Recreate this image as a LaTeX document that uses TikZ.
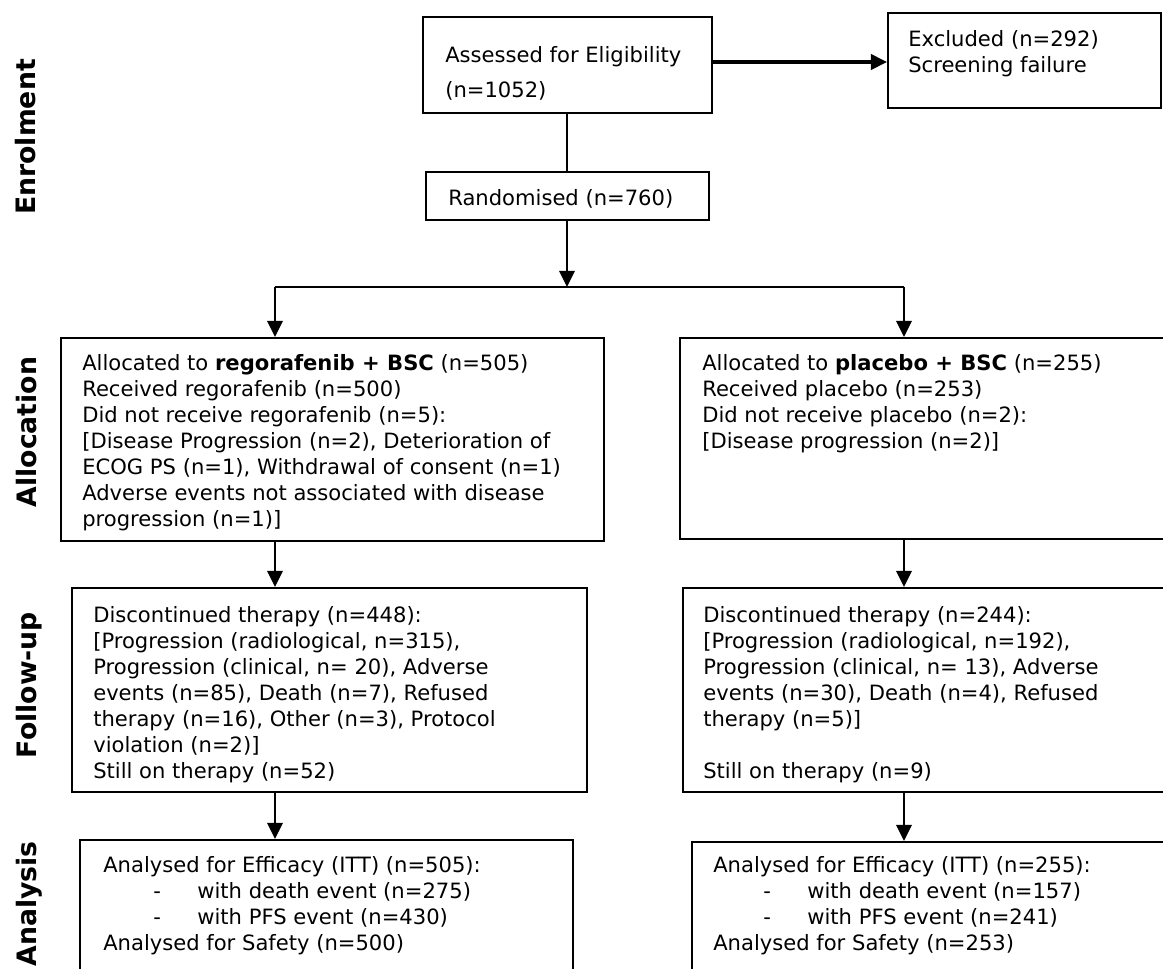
\documentclass[tikz,border=0pt]{standalone}
\usepackage{fontspec}
\setmainfont{DejaVu Sans}
\usetikzlibrary{positioning,arrows.meta,fit}
\tikzset{
    every node/.style={font=\fontsize{15}{18.5}\selectfont},
    flowbox/.style={draw,rectangle,line width=1.5pt,inner sep=0pt},
    flowtext/.style={anchor=north west,align=left,inner sep=0pt},
    stage/.style={rotate=90,anchor=base,inner sep=0pt,font=\bfseries\fontsize{19}{22}\selectfont},
    flow/.style={line width=1.5pt,-{Triangle[length=11.5pt,width=11pt]}},
    link/.style={line width=1.5pt}
}

\begin{document}
\begin{tikzpicture}[x=0.025cm,y=-0.025cm]
\useasboundingbox (0,0) rectangle (1163,968);
\clip (0,0) rectangle (1163,968);
% stages
\node[stage] (enrol) at (35,137) {Enrolment};
\node[stage] (alloc) at (36,432) {Allocation};
\node[stage] (follow) at (36,685) {Follow-up};
\node[stage] (anal) at (36,904) {Analysis};
% boxes
\node[flowbox,fit={(423,17) (712,113)}] (assess) {};
\node[flowbox,fit={(888,13) (1161,108)}] (excl) {};
\node[flowbox,fit={(426,172) (709,220)}] (rand) {};
\node[flowbox,fit={(61,338) (604,541)}] (allocL) {};
\node[flowbox,fit={(680,338) (1190,539)}] (allocR) {};
\node[flowbox,fit={(72,588) (587,792)}] (followL) {};
\node[flowbox,fit={(683,588) (1190,792)}] (followR) {};
\node[flowbox,fit={(80,840) (573,1010)}] (analL) {};
\node[flowbox,fit={(692,842) (1190,1010)}] (analR) {};
% texts
\node[flowtext] (assesstxt) at (445,46) {Assessed for Eligibility\\[6.5pt](n=1052)};
\node[flowtext] (excltxt) at (908,30) {Excluded (n=292)\\Screening failure};
\node[flowtext] (randtxt) at (448,189) {Randomised (n=760)};
\node[flowtext] (allocLtxt) at (82,354) {Allocated to \textbf{regorafenib + BSC} (n=505)\\
  Received regorafenib (n=500)\\
  Did not receive regorafenib (n=5):\\
  {[}Disease Progression (n=2), Deterioration of\\
  ECOG PS (n=1), Withdrawal of consent (n=1)\\
  Adverse events not associated with disease\\
  progression (n=1)]};
\node[flowtext] (allocRtxt) at (702,354) {Allocated to \textbf{placebo + BSC} (n=255)\\
  Received placebo (n=253)\\
  Did not receive placebo (n=2):\\
  {[}Disease progression (n=2)]};
\node[flowtext] (followLtxt) at (93,606) {Discontinued therapy (n=448):\\
  {[}Progression (radiological, n=315),\\
  Progression (clinical, n= 20), Adverse\\
  events (n=85), Death (n=7), Refused\\
  therapy (n=16), Other (n=3), Protocol\\
  violation (n=2)]\\
  Still on therapy (n=52)};
\node[flowtext] (followRtxt) at (703,606) {Discontinued therapy (n=244):\\
  {[}Progression (radiological, n=192),\\
  Progression (clinical, n= 13), Adverse\\
  events (n=30), Death (n=4), Refused\\
  therapy (n=5)]\\[18.5pt]
  Still on therapy (n=9)};
\node[flowtext] (analLtxt) at (103,856) {Analysed for Efficacy (ITT) (n=505):\\
  \makebox[66.9pt][l]{\hspace*{35.6pt}-}with death event (n=275)\\
  \makebox[66.9pt][l]{\hspace*{35.6pt}-}with PFS event (n=430)\\
  Analysed for Safety (n=500)};
\node[flowtext] (analRtxt) at (713,856) {Analysed for Efficacy (ITT) (n=255):\\
  \makebox[66.9pt][l]{\hspace*{35.6pt}-}with death event (n=157)\\
  \makebox[66.9pt][l]{\hspace*{35.6pt}-}with PFS event (n=241)\\
  Analysed for Safety (n=253)};
% connectors
\coordinate (split) at (567,287);
\coordinate (splitL) at (275,287);
\coordinate (splitR) at (904,287);
\draw[flow,line width=2.2pt] (assess.east |- 0,62) -- (excl.west |- 0,62);
\draw[line width=0.9pt] (assess.south -| split) -- (rand.north -| split);
\draw[flow] (rand.south -| split) -- (split);
\draw[link] (splitL) -- (splitR);
\draw[flow] (splitL) -- (allocL.north -| splitL);
\draw[flow] (splitR) -- (allocR.north -| splitR);
\draw[flow] (allocL.south -| splitL) -- (followL.north -| splitL);
\draw[flow] (allocR.south -| splitR) -- (followR.north -| splitR);
\draw[flow] (followL.south -| splitL) -- (analL.north -| splitL);
\draw[flow] (followR.south -| splitR) -- (analR.north -| splitR);
\end{tikzpicture}
\end{document}
